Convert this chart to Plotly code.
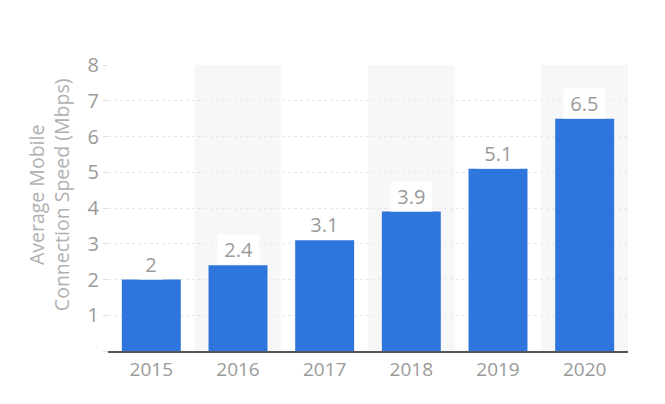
import plotly.graph_objects as go

years = ["2015", "2016", "2017", "2018", "2019", "2020"]
speeds = [2, 2.4, 3.1, 3.9, 5.1, 6.5]
y_ticks = [0, 1, 2, 3, 4, 5, 6, 7, 8]
y_tick_text = ["", "1", "2", "3", "4", "5", "6", "7", "8"]
y_title = "Average Mobile<br>Connection Speed (Mbps)"

font_family = "Open Sans, Noto Sans, sans-serif"
gray = "#9a9a9a"

fig = go.Figure()
fig.add_trace(go.Bar(
    x=list(range(len(years))), y=speeds,
    marker=dict(color="#2e75dd", line=dict(width=0)),
    width=0.68,
    hoverinfo="skip",
))

shapes = []
for i in range(len(years)):
    if i % 2 == 1:
        shapes.append(dict(type="rect", xref="x", yref="paper",
                           x0=i - 0.5, x1=i + 0.5, y0=0, y1=1,
                           fillcolor="#f7f7f7", line=dict(width=0), layer="below"))

annotations = []
for i, v in enumerate(speeds):
    annotations.append(dict(x=i, y=v, xref="x", yref="y",
                            text="\u00a0" + f"{v:g}" + "\u00a0",
                            showarrow=False, yanchor="bottom", yshift=0,
                            bgcolor="white", borderpad=1,
                            font=dict(size=20, color=gray, family=font_family)))

annotations.append(dict(x=0, y=0.545, xref="paper", yref="paper", text=y_title,
                        showarrow=False, textangle=-90, xanchor="center",
                        yanchor="middle", xshift=-59,
                        font=dict(size=19.5, color="#b0b0b0", family=font_family)))

fig.update_layout(
    width=665, height=404,
    margin=dict(l=100, r=45, t=57, b=61),
    paper_bgcolor="white", plot_bgcolor="white",
    showlegend=False,
    shapes=shapes,
    annotations=annotations,
    font=dict(family=font_family, color=gray, size=19),
    xaxis=dict(
        tickvals=list(range(len(years))), ticktext=years,
        range=[-0.5, len(years) - 0.5],
        showline=True, linecolor="#555555", linewidth=1.5,
        showgrid=False, ticks="", zeroline=False,
        tickfont=dict(size=19, color=gray),
    ),
    yaxis=dict(
        range=[0, 8], tickvals=y_ticks, ticktext=y_tick_text,
        showgrid=True, gridcolor="#e8e8e8", griddash="dot", gridwidth=1,
        ticks="outside", ticklen=4, tickcolor="#dddddd",
        zeroline=False, showline=False,
        tickfont=dict(size=20, color=gray),
    ),
)

fig.write_html("out.html")
